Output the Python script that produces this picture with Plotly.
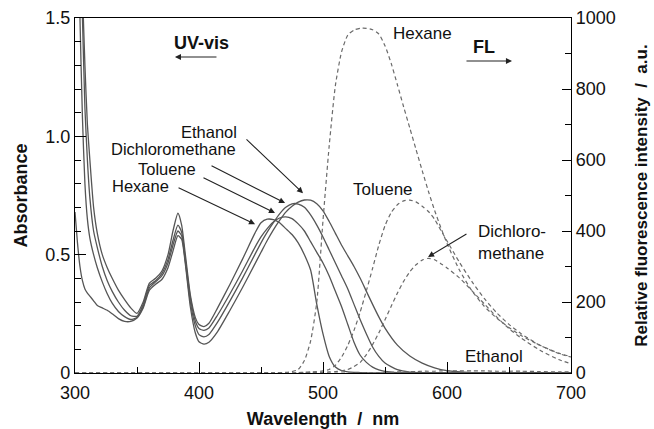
import plotly.graph_objects as go

# ---------------- data ----------------
UV_NM = [300, 302, 304, 306, 308, 310, 312, 315, 318, 322,
         326, 330, 335, 340, 345, 350, 355, 360, 365, 370,
         375, 379, 383, 386, 389, 393, 397, 400, 404, 408,
         415, 425, 435, 445, 450, 455, 460, 465, 470, 475,
         480, 485, 490, 495, 500, 505, 510, 515, 520, 525,
         530, 535, 540, 545, 550, 560, 570, 580, 590, 600,
         620, 650, 700]

UV_HEXANE = [3.0, 2.5, 2.0, 1.62, 1.3, 1.05, 0.9, 0.7, 0.59, 0.5,
             0.445, 0.4, 0.35, 0.31, 0.275, 0.252, 0.3, 0.38, 0.4, 0.43,
             0.5, 0.6, 0.675, 0.625, 0.5, 0.33, 0.235, 0.205, 0.196, 0.21,
             0.275, 0.375, 0.48, 0.59, 0.635, 0.65, 0.648, 0.635, 0.61, 0.585,
             0.55, 0.5, 0.435, 0.29, 0.165, 0.07, 0.025, 0.01, 0.005, 0.003,
             0.002, 0.001, 0, 0, 0, 0, 0, 0, 0, 0,
             0, 0, 0]
UV_TOLUENE = [3.0, 2.3, 1.85, 1.5, 1.12, 0.9, 0.74, 0.6, 0.53, 0.45,
              0.39, 0.345, 0.3, 0.265, 0.242, 0.24, 0.29, 0.37, 0.39, 0.42,
              0.48, 0.56, 0.625, 0.595, 0.48, 0.32, 0.22, 0.188, 0.18, 0.19,
              0.245, 0.335, 0.43, 0.53, 0.575, 0.61, 0.638, 0.655, 0.66, 0.652,
              0.63, 0.6, 0.555, 0.51, 0.465, 0.41, 0.345, 0.28, 0.205, 0.13,
              0.075, 0.045, 0.025, 0.013, 0.007, 0.002, 0, 0, 0, 0,
              0, 0, 0]
UV_DCM = [3.0, 2.1, 1.5, 1.08, 0.8, 0.65, 0.57, 0.5, 0.445, 0.385,
          0.335, 0.295, 0.26, 0.238, 0.226, 0.235, 0.28, 0.36, 0.385, 0.41,
          0.465, 0.54, 0.6, 0.58, 0.47, 0.3, 0.2, 0.162, 0.153, 0.163,
          0.215, 0.305, 0.4, 0.5, 0.55, 0.595, 0.635, 0.672, 0.7, 0.715,
          0.714, 0.7, 0.668, 0.625, 0.575, 0.52, 0.465, 0.41, 0.355, 0.29,
          0.225, 0.165, 0.11, 0.07, 0.042, 0.014, 0.004, 0.001, 0, 0,
          0, 0, 0]
UV_ETHANOL = [0.68, 0.55, 0.45, 0.39, 0.355, 0.338, 0.325, 0.305, 0.285, 0.275,
              0.265, 0.25, 0.23, 0.218, 0.218, 0.232, 0.275, 0.35, 0.375, 0.395,
              0.445, 0.515, 0.58, 0.565, 0.46, 0.28, 0.17, 0.132, 0.122, 0.13,
              0.175, 0.265, 0.36, 0.46, 0.51, 0.56, 0.605, 0.645, 0.68, 0.705,
              0.722, 0.731, 0.73, 0.715, 0.685, 0.64, 0.59, 0.54, 0.495, 0.45,
              0.4, 0.345, 0.29, 0.237, 0.19, 0.118, 0.072, 0.042, 0.022, 0.01,
              0.002, 0, 0]

FL_NM = [300, 460, 470, 475, 480, 485, 490, 495, 500, 505,
         510, 515, 520, 525, 530, 535, 540, 545, 550, 555,
         560, 565, 570, 575, 580, 585, 590, 595, 600, 610,
         620, 630, 640, 650, 660, 675, 690, 700]

FL_HEXANE = [0, 0, 2, 4, 10, 35, 90, 200, 430, 640,
             810, 905, 952, 966, 971, 971, 967, 955, 922, 872,
             812, 750, 690, 630, 570, 512, 458, 410, 365, 290,
             232, 188, 155, 128, 105, 78, 56, 46]
FL_TOLUENE = [0, 0, 0, 0, 1, 2, 3, 4, 6, 10,
              22, 45, 78, 120, 172, 232, 295, 360, 415, 452,
              474, 485, 487, 482, 470, 455, 433, 402, 372, 312,
              258, 210, 170, 137, 110, 78, 55, 45]
FL_DCM = [0, 0, 0, 0, 0, 0, 1, 1, 2, 3,
          4, 6, 10, 18, 30, 52, 80, 113, 150, 188,
          225, 258, 285, 305, 318, 323, 319, 308, 296, 268,
          232, 195, 158, 125, 98, 64, 38, 26]
FL_ETHANOL = [0, 0, 0, 0, 0, 0, 0, 0, 0, 0,
              0, 0, 0, 0, 0, 0, 1, 1, 2, 2,
              3, 3, 4, 4, 5, 5, 5, 6, 6, 6,
              6, 6, 5, 5, 5, 4, 3, 3]

X_TICKS = [300, 400, 500, 600, 700]
Y_TICKS = [0, 0.5, 1.0, 1.5]
Y_TICK_TEXT = ["0", "0.5", "1.0", "1.5"]
Y2_TICKS = [0, 200, 400, 600, 800, 1000]

# ---------------- figure ----------------
FONT = "Liberation Sans, Arial, sans-serif"
SOLID = "#555555"
DASH = "#6a6a6a"

fig = go.Figure()
for ys in [UV_HEXANE, UV_TOLUENE, UV_DCM, UV_ETHANOL]:
    fig.add_trace(go.Scatter(x=UV_NM, y=ys, mode="lines",
                             line=dict(color=SOLID, width=1.3, shape="spline", smoothing=0.6),
                             showlegend=False, hoverinfo="skip"))
for ys in [FL_HEXANE, FL_TOLUENE, FL_DCM, FL_ETHANOL]:
    fig.add_trace(go.Scatter(x=FL_NM, y=ys, mode="lines", yaxis="y2",
                             line=dict(color=DASH, width=1.2, dash="4px,3px", shape="spline", smoothing=0.6),
                             showlegend=False, hoverinfo="skip"))

fig.update_layout(
    width=654, height=429,
    margin=dict(l=75, r=83, t=18, b=56),
    paper_bgcolor="white", plot_bgcolor="white",
    font=dict(family=FONT, size=18, color="#111111"),
    xaxis=dict(range=[300, 700], tickvals=X_TICKS, ticks="inside", ticklen=11, tickwidth=1.2,
               tickcolor="black", showline=True, linecolor="black", linewidth=1.3, mirror=True,
               showgrid=False, zeroline=False, automargin=False, ticklabelstandoff=3,
               minor=dict(dtick=50, tick0=300, ticks="inside", ticklen=6, tickcolor="black", tickwidth=1.2, showgrid=False),
               title=dict(text="<b>Wavelength\u00a0\u00a0/\u00a0\u00a0nm</b>", font=dict(size=18), standoff=18),
               tickfont=dict(size=18)),
    yaxis=dict(range=[0, 1.5], tickvals=Y_TICKS, ticktext=Y_TICK_TEXT, ticks="inside", ticklen=11,
               tickwidth=1.2, tickcolor="black", showline=True, linecolor="black", linewidth=1.3,
               showgrid=False, zeroline=False, automargin=False,
               minor=dict(dtick=0.1, tick0=0, ticks="inside", ticklen=6, tickcolor="black", tickwidth=1.2, showgrid=False),
               title=dict(text="<b>Absorbance</b>", font=dict(size=18), standoff=12),
               tickfont=dict(size=18)),
    yaxis2=dict(range=[0, 1000], tickvals=Y2_TICKS, overlaying="y", side="right", ticks="inside",
                ticklen=9, tickwidth=1.2, tickcolor="black", showline=True, linecolor="black", linewidth=1.3,
                showgrid=False, zeroline=False, automargin=False,
                minor=dict(dtick=100, tick0=0, ticks="inside", ticklen=6, tickcolor="black", tickwidth=1.2, showgrid=False),
                title=dict(text="<b>Relative fluorescence intensity\u00a0\u00a0/\u00a0\u00a0a.u.</b>", font=dict(size=17), standoff=20),
                tickfont=dict(size=18)),
)

def label(x, y, text, xanchor="center", bold=False, size=16.5):
    fig.add_annotation(x=x, y=y, xref="x", yref="y", text=(f"<b>{text}</b>" if bold else text),
                       showarrow=False, xanchor=xanchor, yanchor="middle", align="left", borderpad=0,
                       font=dict(size=size, family=FONT, color="#111111"))

def arrow(x_tail, y_tail, x_head, y_head):
    fig.add_annotation(x=x_head, y=y_head, ax=x_tail, ay=y_tail, xref="x", yref="y", axref="x", ayref="y",
                       text="", showarrow=True, arrowhead=2, arrowsize=1.1, arrowwidth=1.1, arrowcolor="#222222",
                       standoff=0, startstandoff=0)

label(402.4, 1.394, "UV-vis", bold=True, size=18)
arrow(415.3, 1.335, 380.6, 1.335)
label(629.8, 1.377, "FL", bold=True, size=18)
arrow(614.5, 1.318, 652.4, 1.318)

label(580.6, 1.436, "Hexane", size=17)
label(548.4, 0.777, "Toluene", size=17)
label(624.2, 0.553, "Dichloro-<br>methane", xanchor="left", size=17)
arrow(616.9, 0.591, 584.7, 0.49)
label(637.9, 0.068, "Ethanol", size=17)

label(431.5, 1.018, "Ethanol", xanchor="right")
label(431.0, 0.946, "Dichloromethane", xanchor="right")
label(398.4, 0.862, "Toluene", xanchor="right")
label(376.6, 0.790, "Hexane", xanchor="right")
arrow(437.1, 0.993, 483.9, 0.760)
arrow(408.9, 0.879, 469.4, 0.718)
arrow(402.4, 0.828, 461.3, 0.676)
arrow(382.3, 0.786, 445.2, 0.629)

fig.write_html("out.html")
